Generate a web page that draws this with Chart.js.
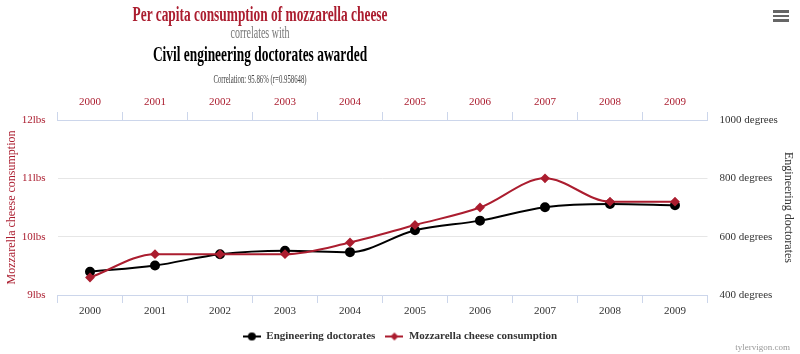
<!DOCTYPE html>
<html>
<head>
<meta charset="utf-8">
<script src="https://cdn.jsdelivr.net/npm/chart.js@4.4.0/dist/chart.umd.min.js"></script>
<style>
	body { margin: 0; background: #fff; }
	#wrap { position: relative; width: 800px; height: 354px; font-family: "Liberation Serif", serif; }
	#wrap canvas { position: absolute; left: 0; top: 0; }
	.t { position: absolute; left: 260px; white-space: nowrap; transform-origin: center center; line-height: 1; }
	#t1 { top: 3px; font-size: 22px; font-weight: bold; color: #ab1d2f; }
	#t2 { top: 25px; font-size: 16px; color: #777; }
	#t3 { top: 43px; font-size: 22px; font-weight: bold; color: #000; }
	#t4 { top: 72px; font-size: 13px; color: #444; }
	#credit { position: absolute; right: 10px; top: 342px; font-size: 9px; color: #999; }
	.bar { position: absolute; left: 773px; width: 16px; height: 2.5px; background: #666; }
</style>
</head>
<body>
<div id="wrap">
	<canvas id="myChart" width="800" height="354"></canvas>
	<div class="t" id="t1" data-w="255">Per capita consumption of mozzarella cheese</div>
	<div class="t" id="t2" data-w="59">correlates with</div>
	<div class="t" id="t3" data-w="214">Civil engineering doctorates awarded</div>
	<div class="t" id="t4" data-w="93">Correlation: 95.86% (r=0.958648)</div>
	<div id="credit">tylervigon.com</div>
	<div class="bar" style="top:10px"></div>
	<div class="bar" style="top:14.5px"></div>
	<div class="bar" style="top:19px"></div>
</div>
<script>
/* 데이터 */
const years = ['2000', '2001', '2002', '2003', '2004', '2005', '2006', '2007', '2008', '2009']
const doctorates = [480, 501, 540, 552, 547, 622, 655, 701, 712, 708]
const mozzarella = [9.3, 9.7, 9.7, 9.7, 9.9, 10.2, 10.5, 11.0, 10.6, 10.6]
const lbsTicks = [9, 10, 11, 12]
const degreeTicks = [400, 600, 800, 1000]

const RED = '#ab1d2f'
const AXIS = '#ccd6eb'
const GRID = '#e6e6e6'
const FONT = 'Liberation Serif'

/* 제목 가로폭 맞추기 */
document.querySelectorAll('.t').forEach(function(el) {
	let s = el.dataset.w / el.offsetWidth
	el.style.transform = 'translateX(-50%) scaleX(' + s + ')'
})

/* 범례 아이콘 (선 + 마커) */
function legendIcon(color, shape) {
	let c = document.createElement('canvas')
	c.width = 18
	c.height = 10
	let ctx = c.getContext('2d')
	ctx.strokeStyle = color
	ctx.fillStyle = color
	ctx.lineWidth = 2
	ctx.beginPath()
	ctx.moveTo(0, 5)
	ctx.lineTo(18, 5)
	ctx.stroke()
	ctx.beginPath()
	if (shape === 'circle') {
		ctx.arc(9, 5, 4, 0, Math.PI * 2)
	} else {
		ctx.moveTo(9, 1); ctx.lineTo(13, 5); ctx.lineTo(9, 9); ctx.lineTo(5, 5); ctx.closePath()
	}
	ctx.fill()
	return c
}
const icons = [legendIcon('#000', 'circle'), legendIcon(RED, 'diamond')]

function xAxis(position, color) {
	return {
		type: 'category',
		position: position,
		labels: years,
		offset: true,
		grid: { offset: true, drawOnChartArea: false, drawTicks: true, tickLength: 8, color: AXIS },
		border: { display: true, color: AXIS, width: 1 },
		ticks: { color: color, font: { family: FONT, size: 11 }, padding: position === 'top' ? 3 : 2, maxRotation: 0 },
		afterFit: function(scale) { scale.height = position === 'top' ? 29 : 26 }
	}
}

var chartArea = document.getElementById('myChart').getContext('2d')

var myChart = new Chart(chartArea, {
	type: 'line',
	data: {
		labels: years,
		datasets: [{
			label: 'Engineering doctorates',
			data: doctorates,
			yAxisID: 'y1',
			xAxisID: 'x',
			borderColor: '#000',
			backgroundColor: '#000',
			borderWidth: 2,
			pointStyle: 'circle',
			pointRadius: 4,
			cubicInterpolationMode: 'monotone',
			order: 2
		}, {
			label: 'Mozzarella cheese consumption',
			data: mozzarella,
			yAxisID: 'y',
			xAxisID: 'x',
			borderColor: RED,
			backgroundColor: RED,
			borderWidth: 2,
			pointStyle: 'rectRot',
			pointRadius: 3.5,
			cubicInterpolationMode: 'monotone',
			order: 1
		}]
	},
	options: {
		responsive: false,
		animation: false,
		layout: { padding: { top: 91, bottom: 2, left: 0, right: 0 } },
		plugins: {
			tooltip: { enabled: false },
			legend: {
				position: 'bottom',
				labels: {
					usePointStyle: true,
					pointStyleWidth: 18,
					padding: 10,
					color: '#333',
					font: { family: FONT, size: 11, weight: 'bold' },
					sort: function(a, b) { return a.datasetIndex - b.datasetIndex },
					generateLabels: function(chart) {
						let items = Chart.defaults.plugins.legend.labels.generateLabels(chart)
						items.forEach(function(it) { it.pointStyle = icons[it.datasetIndex] })
						return items
					}
				}
			}
		},
		scales: {
			x: xAxis('bottom', '#333'),
			x2: xAxis('top', RED),
			y: {
				position: 'left',
				min: 9,
				max: 12,
				afterBuildTicks: function(scale) { scale.ticks = lbsTicks.map(function(v) { return { value: v } }) },
				grid: { color: GRID, drawTicks: false },
				border: { display: false },
				ticks: { color: RED, padding: 12, font: { family: FONT, size: 11 }, callback: function(v) { return v + 'lbs' } },
				title: { display: true, text: 'Mozzarella cheese consumption', color: RED, font: { family: FONT, size: 12 }, padding: { top: 5, bottom: 0 } },
				afterFit: function(scale) { scale.width = 57.5 }
			},
			y1: {
				position: 'right',
				min: 400,
				max: 1000,
				afterBuildTicks: function(scale) { scale.ticks = degreeTicks.map(function(v) { return { value: v } }) },
				grid: { drawOnChartArea: false, drawTicks: false },
				border: { display: false },
				ticks: { color: '#333', padding: 12, font: { family: FONT, size: 11 }, callback: function(v) { return v + ' degrees' } },
				title: { display: true, text: 'Engineering doctorates', color: '#333', font: { family: FONT, size: 12 }, padding: { top: 5, bottom: 0 } },
				afterFit: function(scale) { scale.width = 92.5 }
			}
		}
	}
})
</script>
</body>
</html>
